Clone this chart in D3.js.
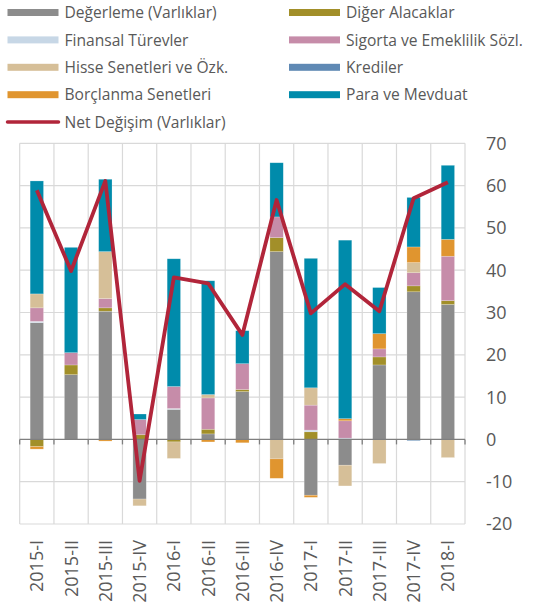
<!DOCTYPE html>
<html lang="tr">
<head>
<meta charset="UTF-8">
<title>Varlıklar</title>
<script src="https://d3js.org/d3.v7.min.js"></script>
<style>
    body { margin: 0; background: #fff; }
    text { font-family: "Open Sans", sans-serif; fill: #595959; }
    .grid line { stroke: #d9d9d9; stroke-width: 1.2; }
</style>
</head>
<body>
<script>
    const width = 537;
    const height = 603;

    const quarters = ["2015-I","2015-II","2015-III","2015-IV","2016-I","2016-II","2016-III",
                      "2016-IV","2017-I","2017-II","2017-III","2017-IV","2018-I"];

    // series in stacking order (same as legend order)
    const degerleme  = [27.6, 15.3, 30.3, -14.1, 7.1, 1.3, 11.3, 44.4, -13.2, -6.1, 17.6, 34.9, 31.9];
    const digerAlac  = [-1.7, 2.3, 0.8, 1.1, -0.6, 1.1, 0.5, 3.3, 1.8, 0, 1.9, 1.4, 0.9];
    const finTurev   = [0.3, 0, 0, 0, 0.2, 0, 0, 0, 0.4, 0.3, 0, 0, 0];
    const sigorta    = [3.2, 2.9, 2.2, 3.6, 5.2, 7.4, 6.1, 4.9, 5.9, 4.1, 1.9, 3.1, 10.5];
    const hisse      = [3.3, 0, 11.1, -1.6, -3.9, 0.8, 0, -4.6, 4.1, -4.9, -5.7, 2.4, -4.3];
    const krediler   = [0, 0, 0, 0, 0, 0, 0, 0, 0, 0, 0, -0.3, 0];
    const borclanma  = [-0.6, 0, -0.4, 0, 0, -0.6, -0.8, -4.6, -0.5, 0.5, 3.6, 3.7, 4.0];
    const paraMevd   = [26.7, 24.9, 17.1, 1.3, 30.2, 26.9, 7.8, 12.8, 30.6, 42.2, 10.9, 11.7, 17.5];
    const netDegisim = [58.9, 39.8, 61.1, -9.8, 38.3, 36.9, 24.7, 56.6, 29.8, 36.7, 30.3, 57.0, 60.8];

    const seriesNames = ["Değerleme (Varlıklar)", "Diğer Alacaklar", "Finansal Türevler",
                         "Sigorta ve Emeklilik Sözl.", "Hisse Senetleri ve Özk.", "Krediler",
                         "Borçlanma Senetleri", "Para ve Mevduat"];
    const seriesValues = [degerleme, digerAlac, finTurev, sigorta, hisse, krediler, borclanma, paraMevd];
    const seriesColors = ["#8c8c8c", "#a28f29", "#c7d7e6", "#c68ca9", "#d6bf98", "#5f89b4", "#e0952f", "#008bab"];
    const lineName = "Net Değişim (Varlıklar)";
    const lineColor = "#b1253a";

    const yTicks = [-20, -10, 0, 10, 20, 30, 40, 50, 60, 70];

    const table = quarters.map((q, i) => {
        const row = {q: q};
        seriesNames.forEach((s, j) => row[s] = seriesValues[j][i]);
        return row;
    });

    const margin = {top: 143.3, left: 19.7, right: 72, bottom: 79};

    const svg = d3.select("body").append("svg")
        .attr("width", width).attr("height", height);

    const x = d3.scaleBand().domain(quarters)
        .range([margin.left, width - margin.right]).paddingInner(0).paddingOuter(0);
    const y = d3.scaleLinear().domain([-20, 70])
        .range([height - margin.bottom, margin.top]);

    // grid
    const grid = svg.append("g").attr("class", "grid");
    grid.selectAll("line.h").data(yTicks.filter(d => d !== 0)).enter().append("line")
        .attr("x1", x.range()[0]).attr("x2", x.range()[1])
        .attr("y1", d => y(d)).attr("y2", d => y(d));
    const bounds = quarters.map(q => x(q)).concat([x.range()[1]]);
    grid.selectAll("line.v").data(bounds).enter().append("line")
        .attr("x1", d => d).attr("x2", d => d)
        .attr("y1", y(70)).attr("y2", y(-20));

    // stacked bars
    const stack = d3.stack().keys(seriesNames).offset(d3.stackOffsetDiverging);
    const stacked = stack(table);
    const bw = x.bandwidth() * 0.39;

    svg.append("g").selectAll("g").data(stacked).enter().append("g")
        .attr("fill", (d, i) => seriesColors[i])
        .selectAll("rect").data(d => d).enter().append("rect")
        .attr("x", d => x(d.data.q) + (x.bandwidth() - bw) / 2)
        .attr("width", bw)
        .attr("y", d => y(Math.max(d[0], d[1])))
        .attr("height", d => Math.abs(y(d[0]) - y(d[1])))
        .attr("stroke", "rgba(255,255,255,0.35)")
        .attr("stroke-width", 0.6);

    // zero axis
    svg.append("line")
        .attr("x1", x.range()[0]).attr("x2", x.range()[1])
        .attr("y1", y(0)).attr("y2", y(0))
        .attr("stroke", "#7f7f7f").attr("stroke-width", 1.3);
    svg.append("g").selectAll("line").data(bounds).enter().append("line")
        .attr("x1", d => d).attr("x2", d => d)
        .attr("y1", y(0)).attr("y2", y(0) + 5)
        .attr("stroke", "#7f7f7f").attr("stroke-width", 1.3);

    // net line
    const line = d3.line()
        .x((d, i) => x(quarters[i]) + x.bandwidth() / 2)
        .y(d => y(d));
    svg.append("path").datum(netDegisim)
        .attr("d", line)
        .attr("fill", "none")
        .attr("stroke", lineColor)
        .attr("stroke-width", 3.8)
        .attr("stroke-linejoin", "round");

    // right axis labels (left aligned like the original)
    svg.append("g").selectAll("text").data(yTicks).enter().append("text")
        .attr("x", 486).attr("y", d => y(d))
        .attr("dy", "0.36em")
        .style("font-size", "18px")
        .text(d => d);

    // x labels, rotated
    svg.append("g").selectAll("text").data(quarters).enter().append("text")
        .attr("transform", d => `translate(${x(d) + x.bandwidth() / 2},${y(-20) + 16}) rotate(-90)`)
        .attr("dy", "0.36em")
        .attr("text-anchor", "end")
        .style("font-size", "18px")
        .text(d => d);

    // legend
    const legend = svg.append("g");
    const items = seriesNames.map((s, i) => ({name: s, color: seriesColors[i], line: false}));
    items.push({name: lineName, color: lineColor, line: true});
    items.forEach((d, i) => {
        const col = i < 8 ? i % 2 : 0;
        const row = Math.floor(i / 2);
        const gx = col === 0 ? 7.5 : 289;
        const gy = 12.5 + row * 27.4;
        if (d.line) {
            legend.append("line").attr("x1", gx).attr("x2", gx + 51)
                .attr("y1", gy).attr("y2", gy)
                .attr("stroke", d.color).attr("stroke-width", 3.5).attr("stroke-linecap", "round");
        } else {
            legend.append("rect").attr("x", gx).attr("y", gy - 3.5)
                .attr("width", 51).attr("height", 7).attr("fill", d.color);
        }
        legend.append("text").attr("x", gx + 57).attr("y", gy)
            .attr("dy", "0.36em")
            .style("font-size", "15.6px")
            .text(d.name);
    });
</script>
</body>
</html>
